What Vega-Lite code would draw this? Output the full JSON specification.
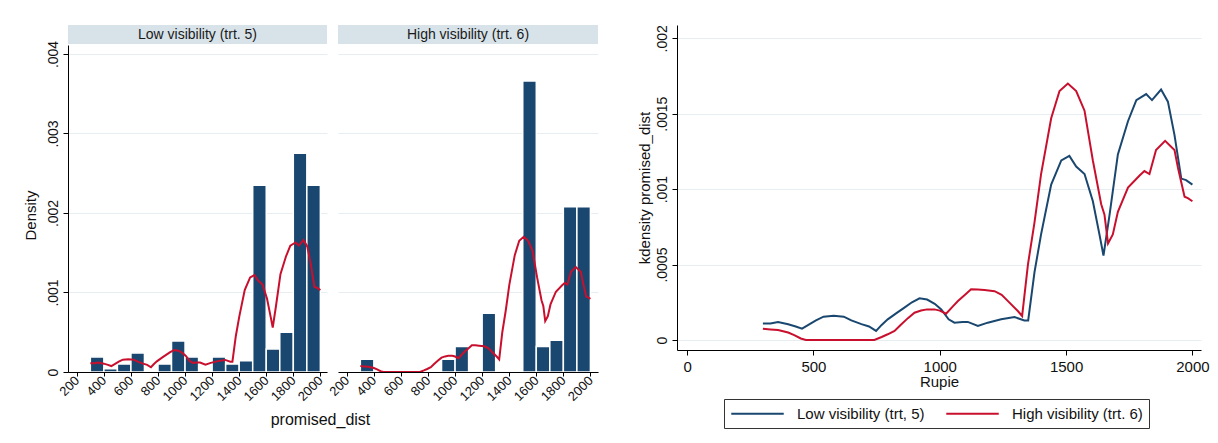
{
  "$schema": "https://vega.github.io/schema/vega-lite/v6.json",
  "background": "white",
  "padding": {"left": 22, "top": 24, "right": 0, "bottom": 0},
  "config": {
    "font": "Liberation Sans",
    "view": {"stroke": null},
    "axis": {
      "domainColor": "#000",
      "domainWidth": 1,
      "tickColor": "#000",
      "tickSize": 5,
      "labelColor": "#111",
      "titleColor": "#111",
      "titleFontWeight": "normal",
      "gridColor": "#e6eef1",
      "gridWidth": 1,
      "labelOverlap": false
    },
    "title": {"fontWeight": "normal", "color": "#111"}
  },
  "datasets": {
    "hist": [
      {"panel": "Low visibility (trt. 5)", "rupie": 300, "rupie_end": 400, "density": 0.00019},
      {"panel": "Low visibility (trt. 5)", "rupie": 400, "rupie_end": 500, "density": 0.00004},
      {"panel": "Low visibility (trt. 5)", "rupie": 500, "rupie_end": 600, "density": 0.0001},
      {"panel": "Low visibility (trt. 5)", "rupie": 600, "rupie_end": 700, "density": 0.00024},
      {"panel": "Low visibility (trt. 5)", "rupie": 800, "rupie_end": 900, "density": 0.0001},
      {"panel": "Low visibility (trt. 5)", "rupie": 900, "rupie_end": 1000, "density": 0.00039},
      {"panel": "Low visibility (trt. 5)", "rupie": 1000, "rupie_end": 1100, "density": 0.00019},
      {"panel": "Low visibility (trt. 5)", "rupie": 1200, "rupie_end": 1300, "density": 0.00019},
      {"panel": "Low visibility (trt. 5)", "rupie": 1300, "rupie_end": 1400, "density": 0.0001},
      {"panel": "Low visibility (trt. 5)", "rupie": 1400, "rupie_end": 1500, "density": 0.00014},
      {"panel": "Low visibility (trt. 5)", "rupie": 1500, "rupie_end": 1600, "density": 0.00235},
      {"panel": "Low visibility (trt. 5)", "rupie": 1600, "rupie_end": 1700, "density": 0.00029},
      {"panel": "Low visibility (trt. 5)", "rupie": 1700, "rupie_end": 1800, "density": 0.0005},
      {"panel": "Low visibility (trt. 5)", "rupie": 1800, "rupie_end": 1900, "density": 0.00275},
      {"panel": "Low visibility (trt. 5)", "rupie": 1900, "rupie_end": 2000, "density": 0.00235},
      {"panel": "High visibility (trt. 6)", "rupie": 300, "rupie_end": 400, "density": 0.00016},
      {"panel": "High visibility (trt. 6)", "rupie": 900, "rupie_end": 1000, "density": 0.00016},
      {"panel": "High visibility (trt. 6)", "rupie": 1000, "rupie_end": 1100, "density": 0.00032},
      {"panel": "High visibility (trt. 6)", "rupie": 1200, "rupie_end": 1300, "density": 0.00074},
      {"panel": "High visibility (trt. 6)", "rupie": 1500, "rupie_end": 1600, "density": 0.00366},
      {"panel": "High visibility (trt. 6)", "rupie": 1600, "rupie_end": 1700, "density": 0.00032},
      {"panel": "High visibility (trt. 6)", "rupie": 1700, "rupie_end": 1800, "density": 0.0004},
      {"panel": "High visibility (trt. 6)", "rupie": 1800, "rupie_end": 1900, "density": 0.00208},
      {"panel": "High visibility (trt. 6)", "rupie": 1900, "rupie_end": 2000, "density": 0.00208}
    ],
    "kde": [
      {"series": "Low visibility (trt, 5)", "rupie": 300, "density": 0.00011},
      {"series": "Low visibility (trt, 5)", "rupie": 330, "density": 0.00011},
      {"series": "Low visibility (trt, 5)", "rupie": 360, "density": 0.00012},
      {"series": "Low visibility (trt, 5)", "rupie": 400, "density": 0.000105},
      {"series": "Low visibility (trt, 5)", "rupie": 430, "density": 0.00009},
      {"series": "Low visibility (trt, 5)", "rupie": 455, "density": 0.000075},
      {"series": "Low visibility (trt, 5)", "rupie": 480, "density": 0.0001},
      {"series": "Low visibility (trt, 5)", "rupie": 510, "density": 0.00013},
      {"series": "Low visibility (trt, 5)", "rupie": 540, "density": 0.000155},
      {"series": "Low visibility (trt, 5)", "rupie": 580, "density": 0.00016},
      {"series": "Low visibility (trt, 5)", "rupie": 620, "density": 0.000155},
      {"series": "Low visibility (trt, 5)", "rupie": 650, "density": 0.00013},
      {"series": "Low visibility (trt, 5)", "rupie": 690, "density": 0.000105},
      {"series": "Low visibility (trt, 5)", "rupie": 720, "density": 0.00009},
      {"series": "Low visibility (trt, 5)", "rupie": 748, "density": 0.00006},
      {"series": "Low visibility (trt, 5)", "rupie": 770, "density": 0.0001},
      {"series": "Low visibility (trt, 5)", "rupie": 794, "density": 0.000137},
      {"series": "Low visibility (trt, 5)", "rupie": 830, "density": 0.00018},
      {"series": "Low visibility (trt, 5)", "rupie": 860, "density": 0.000215},
      {"series": "Low visibility (trt, 5)", "rupie": 890, "density": 0.00025},
      {"series": "Low visibility (trt, 5)", "rupie": 920, "density": 0.000276},
      {"series": "Low visibility (trt, 5)", "rupie": 950, "density": 0.000268},
      {"series": "Low visibility (trt, 5)", "rupie": 980, "density": 0.00024},
      {"series": "Low visibility (trt, 5)", "rupie": 1006, "density": 0.000203},
      {"series": "Low visibility (trt, 5)", "rupie": 1035, "density": 0.000137},
      {"series": "Low visibility (trt, 5)", "rupie": 1058, "density": 0.000115},
      {"series": "Low visibility (trt, 5)", "rupie": 1090, "density": 0.00012},
      {"series": "Low visibility (trt, 5)", "rupie": 1111, "density": 0.00012},
      {"series": "Low visibility (trt, 5)", "rupie": 1151, "density": 0.000093},
      {"series": "Low visibility (trt, 5)", "rupie": 1190, "density": 0.000115},
      {"series": "Low visibility (trt, 5)", "rupie": 1243, "density": 0.000137},
      {"series": "Low visibility (trt, 5)", "rupie": 1296, "density": 0.000152},
      {"series": "Low visibility (trt, 5)", "rupie": 1335, "density": 0.00013},
      {"series": "Low visibility (trt, 5)", "rupie": 1350, "density": 0.00013},
      {"series": "Low visibility (trt, 5)", "rupie": 1375, "density": 0.00045},
      {"series": "Low visibility (trt, 5)", "rupie": 1401, "density": 0.0007},
      {"series": "Low visibility (trt, 5)", "rupie": 1441, "density": 0.00103},
      {"series": "Low visibility (trt, 5)", "rupie": 1481, "density": 0.00119},
      {"series": "Low visibility (trt, 5)", "rupie": 1513, "density": 0.00122},
      {"series": "Low visibility (trt, 5)", "rupie": 1540, "density": 0.00115},
      {"series": "Low visibility (trt, 5)", "rupie": 1573, "density": 0.0011},
      {"series": "Low visibility (trt, 5)", "rupie": 1606, "density": 0.00092},
      {"series": "Low visibility (trt, 5)", "rupie": 1632, "density": 0.0007},
      {"series": "Low visibility (trt, 5)", "rupie": 1648, "density": 0.00056},
      {"series": "Low visibility (trt, 5)", "rupie": 1672, "density": 0.00083},
      {"series": "Low visibility (trt, 5)", "rupie": 1705, "density": 0.00123},
      {"series": "Low visibility (trt, 5)", "rupie": 1745, "density": 0.00145},
      {"series": "Low visibility (trt, 5)", "rupie": 1778, "density": 0.00159},
      {"series": "Low visibility (trt, 5)", "rupie": 1817, "density": 0.00163},
      {"series": "Low visibility (trt, 5)", "rupie": 1840, "density": 0.00159},
      {"series": "Low visibility (trt, 5)", "rupie": 1876, "density": 0.00166},
      {"series": "Low visibility (trt, 5)", "rupie": 1903, "density": 0.00158},
      {"series": "Low visibility (trt, 5)", "rupie": 1929, "density": 0.00136},
      {"series": "Low visibility (trt, 5)", "rupie": 1956, "density": 0.00107},
      {"series": "Low visibility (trt, 5)", "rupie": 1975, "density": 0.00106},
      {"series": "Low visibility (trt, 5)", "rupie": 2000, "density": 0.00103},
      {"series": "High visibility (trt. 6)", "rupie": 300, "density": 0.000075},
      {"series": "High visibility (trt. 6)", "rupie": 330, "density": 0.00007},
      {"series": "High visibility (trt. 6)", "rupie": 360, "density": 0.000066},
      {"series": "High visibility (trt. 6)", "rupie": 400, "density": 0.00005},
      {"series": "High visibility (trt. 6)", "rupie": 424, "density": 0.000033},
      {"series": "High visibility (trt. 6)", "rupie": 450, "density": 0.00001},
      {"series": "High visibility (trt. 6)", "rupie": 470, "density": 0},
      {"series": "High visibility (trt. 6)", "rupie": 600, "density": 0},
      {"series": "High visibility (trt. 6)", "rupie": 741, "density": 0},
      {"series": "High visibility (trt. 6)", "rupie": 770, "density": 0.00002},
      {"series": "High visibility (trt. 6)", "rupie": 794, "density": 0.000038},
      {"series": "High visibility (trt. 6)", "rupie": 821, "density": 0.00006},
      {"series": "High visibility (trt. 6)", "rupie": 845, "density": 0.0001},
      {"series": "High visibility (trt. 6)", "rupie": 874, "density": 0.000145},
      {"series": "High visibility (trt. 6)", "rupie": 900, "density": 0.000181},
      {"series": "High visibility (trt. 6)", "rupie": 926, "density": 0.000196},
      {"series": "High visibility (trt. 6)", "rupie": 950, "density": 0.000203},
      {"series": "High visibility (trt. 6)", "rupie": 979, "density": 0.000203},
      {"series": "High visibility (trt. 6)", "rupie": 1000, "density": 0.000195},
      {"series": "High visibility (trt. 6)", "rupie": 1025, "density": 0.000174},
      {"series": "High visibility (trt. 6)", "rupie": 1050, "density": 0.00022},
      {"series": "High visibility (trt. 6)", "rupie": 1072, "density": 0.000258},
      {"series": "High visibility (trt. 6)", "rupie": 1100, "density": 0.0003},
      {"series": "High visibility (trt. 6)", "rupie": 1124, "density": 0.000336},
      {"series": "High visibility (trt. 6)", "rupie": 1150, "density": 0.000335},
      {"series": "High visibility (trt. 6)", "rupie": 1177, "density": 0.000331},
      {"series": "High visibility (trt. 6)", "rupie": 1217, "density": 0.000324},
      {"series": "High visibility (trt. 6)", "rupie": 1245, "density": 0.0003},
      {"series": "High visibility (trt. 6)", "rupie": 1270, "density": 0.000258},
      {"series": "High visibility (trt. 6)", "rupie": 1309, "density": 0.000192},
      {"series": "High visibility (trt. 6)", "rupie": 1326, "density": 0.000159},
      {"series": "High visibility (trt. 6)", "rupie": 1349, "density": 0.0005},
      {"series": "High visibility (trt. 6)", "rupie": 1375, "density": 0.00078},
      {"series": "High visibility (trt. 6)", "rupie": 1401, "density": 0.0011},
      {"series": "High visibility (trt. 6)", "rupie": 1441, "density": 0.00147},
      {"series": "High visibility (trt. 6)", "rupie": 1474, "density": 0.00165},
      {"series": "High visibility (trt. 6)", "rupie": 1507, "density": 0.0017},
      {"series": "High visibility (trt. 6)", "rupie": 1540, "density": 0.00165},
      {"series": "High visibility (trt. 6)", "rupie": 1573, "density": 0.00152},
      {"series": "High visibility (trt. 6)", "rupie": 1606, "density": 0.00119},
      {"series": "High visibility (trt. 6)", "rupie": 1639, "density": 0.0009},
      {"series": "High visibility (trt. 6)", "rupie": 1652, "density": 0.00083},
      {"series": "High visibility (trt. 6)", "rupie": 1666, "density": 0.00064},
      {"series": "High visibility (trt. 6)", "rupie": 1685, "density": 0.0007},
      {"series": "High visibility (trt. 6)", "rupie": 1705, "density": 0.00085},
      {"series": "High visibility (trt. 6)", "rupie": 1745, "density": 0.00101},
      {"series": "High visibility (trt. 6)", "rupie": 1791, "density": 0.00109},
      {"series": "High visibility (trt. 6)", "rupie": 1810, "density": 0.00112},
      {"series": "High visibility (trt. 6)", "rupie": 1830, "density": 0.0011},
      {"series": "High visibility (trt. 6)", "rupie": 1856, "density": 0.00126},
      {"series": "High visibility (trt. 6)", "rupie": 1892, "density": 0.00132},
      {"series": "High visibility (trt. 6)", "rupie": 1929, "density": 0.00126},
      {"series": "High visibility (trt. 6)", "rupie": 1943, "density": 0.00114},
      {"series": "High visibility (trt. 6)", "rupie": 1969, "density": 0.00095},
      {"series": "High visibility (trt. 6)", "rupie": 1982, "density": 0.00094},
      {"series": "High visibility (trt. 6)", "rupie": 2000, "density": 0.00092}
    ]
  },
  "spacing": 39,
  "hconcat": [
    {
      "title": {"text": "promised_dist", "orient": "bottom", "anchor": "middle", "fontSize": 16, "offset": 9, "dx": 10},
      "spacing": 0,
      "hconcat": [
        {
          "spacing": 1,
          "bounds": "flush",
          "vconcat": [
            {
              "width": 259,
              "height": 19,
              "view": {"fill": "#d7e2e9", "stroke": null},
              "data": {"values": [{"label": "Low visibility (trt. 5)"}]},
              "mark": {"type": "text", "fontSize": 14, "color": "#1a1a1a", "baseline": "middle"},
              "encoding": {"text": {"field": "label"}}
            },
            {
              "width": 259,
              "height": 327,
              "encoding": {
                "x": {
                  "field": "rupie",
                  "type": "quantitative",
                  "scale": {"domain": [135, 2049], "nice": false, "zero": false},
                  "axis": {
                    "title": null,
                    "values": [200, 400, 600, 800, 1000, 1200, 1400, 1600, 1800, 2000],
                    "format": "d",
                    "labelAngle": 315,
                    "labelAlign": "right",
                    "labelBaseline": "middle",
                    "labelFontSize": 13,
                    "tickSize": 4,
                    "labelPadding": 2,
                    "grid": false,
                    "zindex": 1
                  }
                },
                "y": {
                  "field": "density",
                  "type": "quantitative",
                  "scale": {"domain": [0, 0.004113], "nice": false},
                  "axis": {
                    "title": "Density",
                    "values": [0, 0.001, 0.002, 0.003, 0.004],
                    "labelExpr": "datum.value == 0 ? '0' : substring(format(datum.value, '~g'), 1)",
                    "labelAngle": 270,
                    "labelAlign": "center",
                    "labelBaseline": "alphabetic",
                    "labelFontSize": 14,
                    "labelPadding": 6,
                    "titleFontSize": 15,
                    "titlePadding": 8,
                    "titleY": 170,
                    "grid": true
                  }
                }
              },
              "layer": [
                {
                  "data": {"name": "hist"},
                  "transform": [{"filter": "datum.panel === 'Low visibility (trt. 5)'"}],
                  "mark": {"type": "rect", "color": "#1a476f", "stroke": "white", "strokeWidth": 1.5},
                  "encoding": {"x2": {"field": "rupie_end"}, "y2": {"datum": 0}}
                },
                {
                  "data": {"name": "kde"},
                  "transform": [{"filter": "datum.series === 'Low visibility (trt, 5)'"}],
                  "mark": {"type": "line", "color": "#c8102e", "strokeWidth": 2}
                }
              ]
            }
          ]
        },
        {
          "spacing": 1,
          "bounds": "flush",
          "vconcat": [
            {
              "width": 260,
              "height": 19,
              "view": {"fill": "#d7e2e9", "stroke": null},
              "data": {"values": [{"label": "High visibility (trt. 6)"}]},
              "mark": {"type": "text", "fontSize": 14, "color": "#1a1a1a", "baseline": "middle"},
              "encoding": {"text": {"field": "label"}}
            },
            {
              "width": 260,
              "height": 327,
              "encoding": {
                "x": {
                  "field": "rupie",
                  "type": "quantitative",
                  "scale": {"domain": [135, 2056], "nice": false, "zero": false},
                  "axis": {
                    "title": null,
                    "values": [200, 400, 600, 800, 1000, 1200, 1400, 1600, 1800, 2000],
                    "format": "d",
                    "labelAngle": 315,
                    "labelAlign": "right",
                    "labelBaseline": "middle",
                    "labelFontSize": 13,
                    "tickSize": 4,
                    "labelPadding": 2,
                    "grid": false,
                    "zindex": 1
                  }
                },
                "y": {
                  "field": "density",
                  "type": "quantitative",
                  "scale": {"domain": [0, 0.004113], "nice": false},
                  "axis": {
                    "title": null,
                    "values": [0, 0.001, 0.002, 0.003, 0.004],
                    "labels": false,
                    "ticks": false,
                    "domain": false,
                    "grid": true
                  }
                }
              },
              "layer": [
                {
                  "data": {"name": "hist"},
                  "transform": [{"filter": "datum.panel === 'High visibility (trt. 6)'"}],
                  "mark": {"type": "rect", "color": "#1a476f", "stroke": "white", "strokeWidth": 1.5},
                  "encoding": {"x2": {"field": "rupie_end"}, "y2": {"datum": 0}}
                },
                {
                  "data": {"name": "kde"},
                  "transform": [{"filter": "datum.series === 'High visibility (trt. 6)'"}],
                  "mark": {"type": "line", "color": "#c8102e", "strokeWidth": 2}
                }
              ]
            }
          ]
        }
      ]
    },
    {
      "width": 524,
      "height": 325,
      "data": {"name": "kde"},
      "mark": {"type": "line", "strokeWidth": 2},
      "encoding": {
        "x": {
          "field": "rupie",
          "type": "quantitative",
          "scale": {"domain": [-40, 2034], "nice": false, "zero": false},
          "axis": {
            "title": "Rupie",
            "values": [0, 500, 1000, 1500, 2000],
            "format": "d",
            "labelFontSize": 15,
            "titleFontSize": 15,
            "labelPadding": 4,
            "titlePadding": 0,
            "labelFlush": false,
            "grid": false
          }
        },
        "y": {
          "field": "density",
          "type": "quantitative",
          "scale": {"domain": [-0.0000662, 0.002088], "nice": false, "zero": false},
          "axis": {
            "title": "kdensity promised_dist",
            "values": [0, 0.0005, 0.001, 0.0015, 0.002],
            "labelExpr": "datum.value == 0 ? '0' : substring(format(datum.value, '~g'), 1)",
            "labelAngle": 270,
            "labelAlign": "center",
            "labelBaseline": "alphabetic",
            "labelFontSize": 14,
            "labelPadding": 6,
            "titleFontSize": 15,
            "titlePadding": 3,
            "grid": true
          }
        },
        "color": {
          "field": "series",
          "type": "nominal",
          "scale": {
            "domain": ["Low visibility (trt, 5)", "High visibility (trt. 6)"],
            "range": ["#1a476f", "#c8102e"]
          },
          "legend": {
            "title": null,
            "orient": "none",
            "legendX": 656,
            "legendY": 374,
            "direction": "horizontal",
            "symbolType": "M-3.5,0H3.5",
            "symbolSize": 225,
            "symbolStrokeWidth": 2,
            "symbolOffset": 19,
            "labelFontSize": 15,
            "labelColor": "#111",
            "labelOffset": 31,
            "columnPadding": 17,
            "padding": 6,
            "strokeColor": "#333"
          }
        }
      }
    }
  ]
}
